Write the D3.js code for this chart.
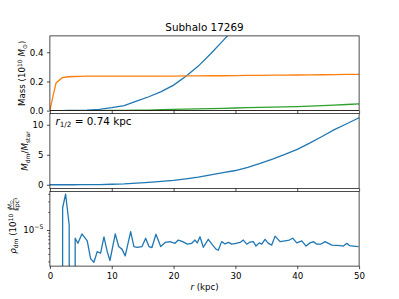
<!DOCTYPE html>
<meta charset="utf-8">
<style>
body { margin: 0; background: #fff; }
text { font-family: "DejaVu Sans", sans-serif; fill: #000; }
</style>
<body>
<svg width="399" height="299"></svg>
<script src="https://cdn.jsdelivr.net/npm/d3@7/dist/d3.min.js"></script>
<script>

// cumulative mass profiles, 10^10 Msun
var rMass     = [0, 0.5, 1, 2, 3, 4, 5, 6, 8, 10, 12, 14, 16, 18, 20, 22, 24, 26, 28, 30, 32, 34, 36, 38, 40, 42, 44, 46, 48, 50];
var massDm    = [0, 0.0001, 0.0002, 0.0005, 0.001, 0.0015, 0.002, 0.003, 0.008, 0.02, 0.035, 0.065, 0.095, 0.13, 0.175, 0.235, 0.305, 0.39, 0.48, 0.57, 0.70, 0.86, 1.04, 1.23, 1.44, 1.70, 1.98, 2.27, 2.52, 2.78];
var massStar  = [0, 0.10, 0.19, 0.226, 0.232, 0.234, 0.235, 0.236, 0.236, 0.236, 0.236, 0.236, 0.237, 0.237, 0.237, 0.238, 0.238, 0.239, 0.239, 0.240, 0.241, 0.242, 0.243, 0.243, 0.244, 0.245, 0.246, 0.247, 0.248, 0.249];
var massGas   = [0, 0, 0, 0, 0, 0, 0, 0, 0, 0.001, 0.002, 0.003, 0.004, 0.006, 0.008, 0.010, 0.012, 0.014, 0.016, 0.018, 0.020, 0.022, 0.024, 0.026, 0.028, 0.031, 0.035, 0.038, 0.042, 0.046];
var massOther = [0, 0, 0, 0, 0, 0, 0, 0, 0, 0, 0, 0, 0, 0, 0, 0, 0, 0, 0, 0, 0, 0, 0, 0, 0, 0, 0, 0, 0, 0];

// dark matter density, 10^10 Msun / kpc^3 (0 = empty shell)
var rRho  = [0.1, 0.6, 1.1, 1.6, 2.06, 2.54, 3.12, 3.62, 4.09, 4.53, 5.18, 6.04, 6.59, 7.12, 7.65, 8.2, 8.74, 9.27, 9.71, 10.57, 11.12, 11.65, 12.18, 13.06, 13.59, 14.13, 14.89, 15.49, 16.02, 16.5, 17.15, 17.91, 18.66, 19.42, 20.23, 20.76, 21.47, 22.22, 22.93, 23.46, 23.83, 24.27, 24.81, 25.61, 26.33, 26.86, 27.23, 27.78, 28.32, 28.85, 29.4, 30.1, 30.74, 31.28, 31.83, 32.36, 32.9, 33.33, 33.87, 34.26, 34.79, 35.32, 35.87, 36.41, 37.22, 38.03, 38.72, 39.27, 39.92, 40.73, 41.42, 42.07, 42.6, 43.16, 43.8, 44.5, 45.03, 45.58, 46.28, 46.93, 47.46, 48.01, 48.43, 49.08, 49.89];
var rhoDm = [0, 0, 0, 0, 2.35e-5, 3.98e-5, 1.21e-5, 0, 7.3e-6, 6.0e-6, 8.6e-6, 6.6e-6, 3.3e-6, 2.9e-6, 4.35e-6, 4.1e-6, 7.7e-6, 4.35e-6, 3.1e-6, 8.6e-6, 5.3e-6, 4.8e-6, 3.7e-6, 9.4e-6, 5.3e-6, 5.15e-6, 5.3e-6, 7.3e-6, 5.3e-6, 5.1e-6, 8.5e-6, 5.3e-6, 6.2e-6, 6.4e-6, 6.0e-6, 6.8e-6, 6.4e-6, 5.8e-6, 6.0e-6, 6.8e-6, 6.1e-6, 7.7e-6, 5.15e-6, 7.0e-6, 5.6e-6, 4.8e-6, 4.6e-6, 6.4e-6, 5.85e-6, 6.2e-6, 5.8e-6, 6.0e-6, 6.2e-6, 6.8e-6, 5.8e-6, 6.3e-6, 6.4e-6, 5.4e-6, 6.1e-6, 5.8e-6, 7.0e-6, 6.0e-6, 5.6e-6, 7.9e-6, 6.4e-6, 6.6e-6, 6.8e-6, 7.3e-6, 6.1e-6, 6.6e-6, 5.4e-6, 6.1e-6, 6.4e-6, 5.8e-6, 5.8e-6, 6.4e-6, 6.0e-6, 5.6e-6, 5.55e-6, 5.5e-6, 5.4e-6, 6.0e-6, 5.5e-6, 5.4e-6, 5.3e-6];

var xTicks     = [0, 10, 20, 30, 40, 50];
var massTicks  = [0, 0.2, 0.4];
var ratioTicks = [0, 5, 10];
var rhoMinor   = [3e-6, 4e-6, 5e-6, 6e-6, 7e-6, 8e-6, 9e-6, 2e-5, 3e-5, 4e-5];

var halfRadius = 0.74;

var svg = d3.select("svg");
var plotL = 49.9, plotR = 359.1, plotT = 35.9, plotB = 266.1;
var gap = 3;
var ph = (plotB - plotT - 2 * gap) / 3;
var lw = 1.3;

var x = d3.scaleLinear().domain([0, 50]).range([plotL, plotR]);

var ratio = massDm.map(function(d, i) { return massStar[i] > 0 ? d / massStar[i] : 0; });

function panel(i, id) {
  var t = plotT + i * (ph + gap), b = t + ph;
  svg.append("clipPath").attr("id", id).append("rect")
      .attr("x", plotL).attr("y", t).attr("width", plotR - plotL).attr("height", ph);
  var g = svg.append("g");
  return { t: t, b: b, g: g, plot: g.append("g").attr("clip-path", "url(#" + id + ")") };
}

function frame(p, y, yTicks, fmt, showX) {
  var ax = p.g.append("g").attr("transform", "translate(" + plotL + ",0)")
      .call(d3.axisLeft(y).tickValues(yTicks).tickSize(3).tickPadding(3.5).tickFormat(fmt));
  var bx = p.g.append("g").attr("transform", "translate(0," + p.b + ")")
      .call(d3.axisBottom(x).tickValues(xTicks).tickSize(3).tickPadding(3.5)
        .tickFormat(showX ? d3.format("d") : function() { return ""; }));
  [ax, bx].forEach(function(a) {
    a.select(".domain").remove();
    a.selectAll(".tick line").attr("stroke", "#000").attr("stroke-width", 0.7);
    a.selectAll(".tick text").attr("font-size", 8.65).attr("font-family", "DejaVu Sans");
  });
  p.g.append("rect").attr("x", plotL).attr("y", p.t).attr("width", plotR - plotL).attr("height", ph)
      .attr("fill", "none").attr("stroke", "#000").attr("stroke-width", 0.7);
  return ax;
}

// ---- panel 1: enclosed mass
var p1 = panel(0, "c1");
var y1 = d3.scaleLinear().domain([0, 0.512]).range([p1.b, p1.t]);
var massLine = d3.line().x(function(d) { return x(d[0]); }).y(function(d) { return y1(d[1]); });
[[massDm, "#1f77b4"], [massStar, "#ff7f0e"], [massGas, "#2ca02c"], [massOther, "#8c564b"]].forEach(function(s) {
  p1.plot.append("path").datum(rMass.map(function(r, i) { return [r, s[0][i]]; }))
      .attr("d", massLine).attr("fill", "none").attr("stroke", s[1]).attr("stroke-width", lw);
});
frame(p1, y1, massTicks, d3.format(".1f"), false);

// ---- panel 2: dm / star ratio
var p2 = panel(1, "c2");
var y2 = d3.scaleLinear().domain([-0.6, 11.85]).range([p2.b, p2.t]);
p2.plot.append("path").datum(rMass.map(function(r, i) { return [r, ratio[i]]; }))
    .attr("d", d3.line().x(function(d) { return x(d[0]); }).y(function(d) { return y2(d[1]); }))
    .attr("fill", "none").attr("stroke", "#1f77b4").attr("stroke-width", lw);
frame(p2, y2, ratioTicks, d3.format("d"), false);

var ann = p2.g.append("text").attr("x", plotL + 5.5).attr("y", p2.t + 11.5).attr("font-size", 10.4);
ann.append("tspan").attr("font-style", "italic").text("r");
ann.append("tspan").attr("font-size", 7.3).attr("dy", 2.2).text("1/2");
ann.append("tspan").attr("dy", -2.2).text(" = " + halfRadius + " kpc");

// ---- panel 3: density, log scale
var p3 = panel(2, "c3");
var y3 = d3.scaleLog().domain([2.5e-6, 4.41e-5]).range([p3.b, p3.t]);
p3.plot.append("path").datum(rRho.map(function(r, i) { return [r, rhoDm[i]]; }))
    .attr("d", d3.line().x(function(d) { return x(d[0]); })
      .y(function(d) { return d[1] > 0 ? y3(d[1]) : p3.b + 5000; }))
    .attr("fill", "none").attr("stroke", "#1f77b4").attr("stroke-width", lw).attr("stroke-linejoin", "round");
var ax3 = frame(p3, y3, [1e-5], function() { return ""; }, true);
ax3.selectAll(".tick text").each(function() {
  var t = d3.select(this);
  t.append("tspan").text("10");
  t.append("tspan").attr("font-size", 6.2).attr("dy", -4).text("\u22125");
});
var minor = p3.g.append("g").attr("transform", "translate(" + plotL + ",0)")
    .call(d3.axisLeft(y3).tickValues(rhoMinor).tickSize(1.7).tickFormat(""));
minor.select(".domain").remove();
minor.selectAll(".tick line").attr("stroke", "#000").attr("stroke-width", 0.6);

// ---- titles and labels
svg.append("text").attr("x", (plotL + plotR) / 2).attr("y", 30.5).attr("text-anchor", "middle")
    .attr("font-size", 10.4).text("Subhalo 17269");

var xl = svg.append("text").attr("x", (plotL + plotR) / 2).attr("y", 290).attr("text-anchor", "middle").attr("font-size", 8.65);
xl.append("tspan").attr("font-style", "italic").text("r");
xl.append("tspan").text(" (kpc)");

function ylabel(cx, cy) {
  return svg.append("text").attr("transform", "translate(" + cx + "," + cy + ") rotate(-90)")
      .attr("text-anchor", "middle").attr("font-size", 8.65);
}
var l1 = ylabel(25, p1.t + ph / 2);
l1.append("tspan").text("Mass (10");
l1.append("tspan").attr("font-size", 6.1).attr("dy", -3.5).text("10");
l1.append("tspan").attr("dy", 3.5).text(" ");
l1.append("tspan").attr("font-style", "italic").text("M");
l1.append("tspan").attr("font-size", 6.1).attr("dy", 1.8).text("\u2299");
l1.append("tspan").attr("dy", -1.8).text(")");

var l2 = ylabel(28, p2.t + ph / 2);
l2.append("tspan").attr("font-style", "italic").text("M");
l2.append("tspan").attr("font-size", 6.1).attr("dy", 1.8).text("dm");
l2.append("tspan").attr("dy", -1.8).text("/");
l2.append("tspan").attr("font-style", "italic").text("M");
l2.append("tspan").attr("font-size", 6.1).attr("dy", 1.8).text("star");

var l3 = svg.append("g").attr("transform", "translate(16," + (p3.t + ph / 2) + ") rotate(-90)");
var l3a = l3.append("text").attr("x", -2).attr("text-anchor", "middle").attr("font-size", 8.65);
l3a.append("tspan").attr("font-style", "italic").text("\u03c1");
l3a.append("tspan").attr("font-size", 6.1).attr("dy", 1.8).text("dm");
l3a.append("tspan").attr("dy", -1.8).text(" (10");
l3a.append("tspan").attr("font-size", 6.1).attr("dy", -3.5).text("10");
l3a.append("tspan").attr("dy", 3.5).text("     )");
l3.append("text").attr("x", 24).attr("y", -4).attr("text-anchor", "middle").attr("font-size", 6.1)
    .append("tspan").attr("font-style", "italic").text("M").append("tspan").attr("font-style", "normal").attr("font-size", 4.5).attr("dy", 1).text("\u2299");
l3.append("line").attr("x1", 19).attr("x2", 30).attr("y1", -2.3).attr("y2", -2.3).attr("stroke", "#000").attr("stroke-width", 0.5);
l3.append("text").attr("x", 24.5).attr("y", 3).attr("text-anchor", "middle").attr("font-size", 6.1).text("kpc\u00b3");
</script>
</body>
